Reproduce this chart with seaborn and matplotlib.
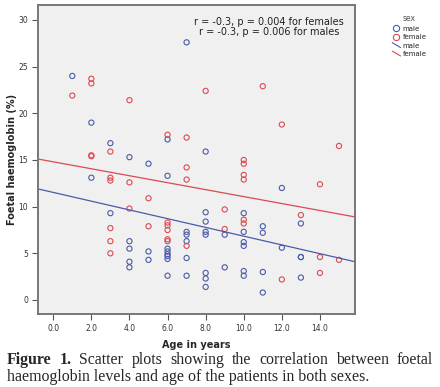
import numpy as np
import pandas as pd
import matplotlib
matplotlib.use("Agg")
import matplotlib.pyplot as plt
import seaborn as sns
from matplotlib.lines import Line2D
from matplotlib.legend_handler import HandlerBase

# ---- data ----
male_age = [1, 2, 2, 3, 3, 4, 4, 4, 4, 4, 5, 5, 5,
            6, 6, 6, 6, 6, 6, 6, 6,
            7, 7, 7, 7, 7, 7,
            8, 8, 8, 8, 8, 8, 8, 8,
            9, 9, 10, 10, 10, 10, 10, 10,
            11, 11, 11, 11, 12, 12, 13, 13, 13, 13]
male_hbf = [24.0, 19.0, 13.1, 16.8, 9.3, 15.3, 6.3, 5.5, 4.1, 3.5, 14.6, 5.2, 4.3,
            17.2, 13.3, 5.5, 5.2, 4.9, 4.7, 4.4, 2.6,
            27.6, 7.3, 7.0, 6.3, 4.5, 2.6,
            15.9, 9.4, 8.4, 7.3, 7.0, 2.9, 2.3, 1.4,
            7.0, 3.5, 9.3, 7.3, 6.2, 5.8, 3.1, 2.6,
            7.9, 7.2, 3.0, 0.8, 12.0, 5.6, 8.2, 4.6, 4.6, 2.4]

female_age = [1, 2, 2, 2, 2, 3, 3, 3, 3, 3, 3, 4, 4, 4, 5, 5,
              6, 6, 6, 6, 6, 6, 7, 7, 7, 7, 8, 9, 9,
              10, 10, 10, 10, 10, 10, 11, 12, 12, 13, 14, 14, 14, 15, 15]
female_hbf = [21.9, 23.7, 23.2, 15.5, 15.4, 15.9, 13.1, 12.8, 7.7, 6.3, 5.0, 21.4, 12.6, 9.8, 10.9, 7.9,
              17.7, 8.3, 8.0, 7.5, 6.5, 6.3, 17.4, 14.2, 12.9, 5.8, 22.4, 9.7, 7.6,
              15.0, 14.6, 13.4, 12.9, 8.6, 8.2, 22.9, 18.8, 2.2, 9.1, 12.4, 4.6, 2.9, 16.5, 4.3]

# fit lines as shown in the chart (ends at the plot edges)
fit_age = [-0.8, 15.84]
male_fit = [11.9, 4.1]
female_fit = [15.1, 8.9]

x_ticks = [0, 2, 4, 6, 8, 10, 12, 14]
x_tick_labels = ["0.0", "2.0", "4.0", "6.0", "8.0", "10.0", "12.0", "14.0"]
y_ticks = [0, 5, 10, 15, 20, 25, 30]

groups = ["male", "female"]
colors = {"male": "#4A5BA8", "female": "#DB4A52"}

df = pd.concat([
    pd.DataFrame({"age": male_age, "hbf": male_hbf, "sex": "male"}),
    pd.DataFrame({"age": female_age, "hbf": female_hbf, "sex": "female"}),
], ignore_index=True)
fit_df = pd.concat([
    pd.DataFrame({"age": fit_age, "hbf": male_fit, "sex": "male"}),
    pd.DataFrame({"age": fit_age, "hbf": female_fit, "sex": "female"}),
], ignore_index=True)

sns.set_style("white")
plt.rcParams["font.family"] = ["DejaVu Sans"]

W, H = 440, 387
fig = plt.figure(figsize=(W / 100, H / 100), dpi=100)
ax = fig.add_axes([38 / W, 1 - 314 / H, (355 - 38) / W, (314 - 5) / H])
ax.set_facecolor("#F0F0F0")

for g in groups:
    sub = df[df["sex"] == g]
    sns.scatterplot(data=sub, x="age", y="hbf", ax=ax, s=14, facecolors="none",
                    edgecolor=colors[g], linewidth=0.8, legend=False)
sns.lineplot(data=fit_df, x="age", y="hbf", hue="sex", palette=colors, ax=ax,
             lw=0.9, legend=False, estimator=None)

ax.set_xlim(-0.8, 15.84)
ax.set_ylim(-1.5, 31.6)
ax.set_xticks(x_ticks)
ax.set_xticklabels(x_tick_labels)
ax.set_yticks(y_ticks)
ax.tick_params(axis="both", which="both", direction="out", length=4, width=0.8,
               color="#555555", labelsize=5.5, labelcolor="#333333", pad=3,
               bottom=True, left=True)
for sp in ax.spines.values():
    sp.set_color("#777777")
    sp.set_linewidth(1.4)
    sp.set_visible(True)

ax.set_xlabel("Age in years", fontsize=7, fontweight="bold", labelpad=5)
ax.set_ylabel("Foetal haemoglobin (%)", fontsize=7, fontweight="bold", labelpad=1)

fig.text(269 / W, 1 - 22 / H, "r = -0.3, p = 0.004 for females", fontsize=7.0,
         ha="center", va="center", color="#222222")
fig.text(269 / W, 1 - 32 / H, "r = -0.3, p = 0.006 for males", fontsize=7.0,
         ha="center", va="center", color="#222222")


class DiagHandler(HandlerBase):
    def create_artists(self, legend, orig_handle, xdescent, ydescent, width, height, fontsize, trans):
        l = Line2D([xdescent, xdescent + width], [ydescent + height, ydescent],
                   color=orig_handle.get_color(), lw=orig_handle.get_linewidth(), transform=trans)
        return [l]


handles = [
    Line2D([], [], ls="none", marker="o", markersize=4.5, markerfacecolor="none",
           markeredgecolor=colors["male"], markeredgewidth=0.8),
    Line2D([], [], ls="none", marker="o", markersize=4.5, markerfacecolor="none",
           markeredgecolor=colors["female"], markeredgewidth=0.8),
    Line2D([], [], color=colors["male"], lw=0.8),
    Line2D([], [], color=colors["female"], lw=0.8),
]
leg = fig.legend(handles, ["male", "female", "male", "female"], title="sex",
                 loc="upper left", bbox_to_anchor=(386 / W, 1 - 8 / H),
                 frameon=False, fontsize=5, title_fontsize=5.5,
                 handlelength=1.2, handletextpad=0.3, labelspacing=0.35,
                 handler_map={handles[2]: DiagHandler(), handles[3]: DiagHandler()})
leg.get_title().set_color("#555555")

# caption, justified
serif = ["Liberation Serif", "DejaVu Serif"]
renderer = fig.canvas.get_renderer()
x0, x1 = 7 / W, 433 / W
line1 = [("Figure", "bold"), ("1.", "bold"), ("Scatter", "normal"), ("plots", "normal"),
         ("showing", "normal"), ("the", "normal"), ("correlation", "normal"),
         ("between", "normal"), ("foetal", "normal")]
y1 = 1 - 360 / H
texts = []
for w, fw in line1:
    t = fig.text(0, y1, w, fontsize=11.4, fontweight=fw, family=serif, va="center", ha="left")
    texts.append(t)
widths = [t.get_window_extent(renderer).width / W for t in texts]
gap = (x1 - x0 - sum(widths)) / (len(texts) - 1)
xp = x0
for t, wd in zip(texts, widths):
    t.set_x(xp)
    xp += wd + gap
fig.text(x0, 1 - 377 / H, "haemoglobin levels and age of the patients in both sexes.",
         fontsize=11.4, family=serif, va="center", ha="left")

fig.savefig("out.png", dpi=100)
